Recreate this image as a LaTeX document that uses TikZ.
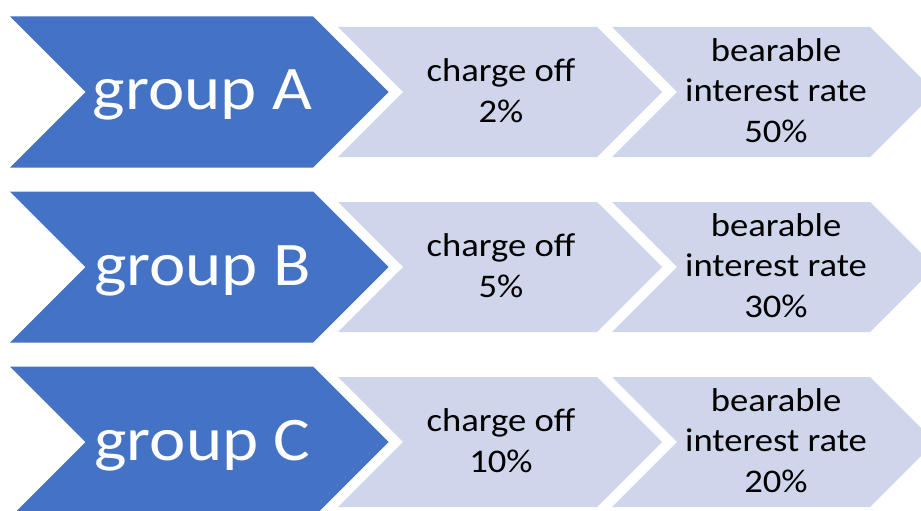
\documentclass[tikz,border=0pt]{standalone}
\usepackage{fontspec}
\setmainfont{Carlito}
\newfontfamily\widefont[FakeStretch=1.11]{Carlito}
\definecolor{headblue}{HTML}{4472C4}
\definecolor{steplight}{HTML}{CFD5EA}
% chevron: #1 = left x, #2 = centre y, #3 = top edge length, #4 = half height
\newcommand\chevronshape[5]{%
  \fill[#5] (#1,#2-#4) -- ++(#3,0) -- ++(#4,#4) -- ++(-#4,#4) -- ++(-#3,0) -- ++(#4,-#4) -- cycle;}
\tikzset{
  headtext/.style={text=white, font=\widefont\fontsize{62}{74}\selectfont, anchor=base, inner sep=0pt},
  steptext/.style={text=black, font=\widefont\fontsize{33}{40.5}\selectfont, align=center, anchor=base, inner sep=0pt},
}
\begin{document}
\begin{tikzpicture}[x=1pt,y=-1pt]
\useasboundingbox (0,0) rectangle (921,511);
\clip (0,0) rectangle (921,511);
\foreach \r/\g/\b [count=\i from 0] in {A/2/50, B/5/30, C/10/20}{
  \pgfmathsetmacro\yc{92+175*\i}
  \chevronshape{10}{\yc}{303}{75.5}{headblue}
  \chevronshape{338}{\yc}{259}{65}{steplight}
  \chevronshape{612}{\yc}{258}{65}{steplight}
  % multi-line nodes sit on the baseline of their last line
  \node[headtext] (group\r) at (202.5,\yc+18) {group \r};
  \node[steptext] (charge\r) at (501,\yc+30) {charge off\\\g\%};
  \node[steptext] (rate\r) at (776,\yc+50) {bearable\\interest rate\\\b\%};
}
\end{tikzpicture}
\end{document}
